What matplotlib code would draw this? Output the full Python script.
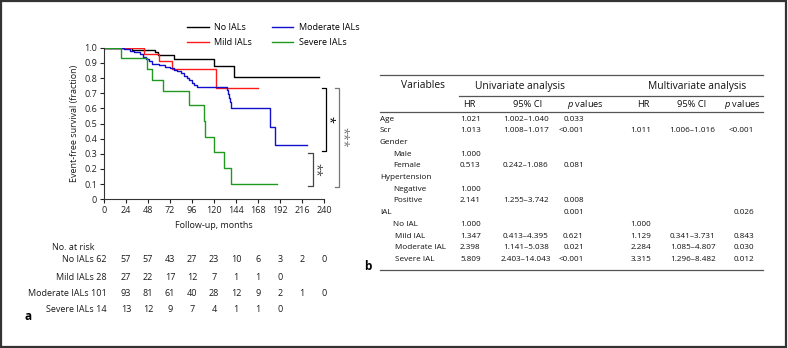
import matplotlib
matplotlib.use('Agg')
import matplotlib.pyplot as plt
import matplotlib.patches as patches
import matplotlib.transforms as mtransforms

plt.rcParams['font.family'] = ['Open Sans', 'DejaVu Sans']
plt.rcParams['mathtext.fontset'] = 'custom'
plt.rcParams['mathtext.it'] = 'Open Sans:italic'
plt.rcParams['mathtext.rm'] = 'Open Sans'

# ---- Kaplan-Meier data ----
groups = ['No IALs', 'Mild IALs', 'Moderate IALs', 'Severe IALs']
colors = ['#000000', '#ff1a1a', '#1010cc', '#1f9a1f']

no_times = [30, 56, 59, 76, 120, 142]
no_surv = [0.984, 0.97, 0.955, 0.925, 0.882, 0.81]
no_end = 235

mild_times = [43.5, 60, 74, 122]
mild_surv = [0.958, 0.91, 0.857, 0.732]
mild_end = 168

mod_times = [22, 28, 33, 39, 43, 46, 49, 52, 60, 66, 72, 76, 80, 84, 87, 90, 93,
             96, 98, 101, 134, 135, 136, 137, 138.5, 181, 186.5]
mod_surv = [0.99, 0.98, 0.97, 0.96, 0.94, 0.925, 0.91, 0.895, 0.885, 0.875, 0.865,
            0.855, 0.845, 0.83, 0.815, 0.80, 0.785, 0.77, 0.755, 0.738, 0.72, 0.695,
            0.67, 0.64, 0.60, 0.477, 0.358]
mod_end = 221

sev_times = [18, 46.5, 52, 64, 93, 109, 110, 120, 131, 139]
sev_surv = [0.93, 0.857, 0.786, 0.714, 0.62, 0.515, 0.413, 0.31, 0.206, 0.103]
sev_end = 189

risk_times = [0, 24, 48, 72, 96, 120, 144, 168, 192, 216, 240]
risk_no = [62, 57, 57, 43, 27, 23, 10, 6, 3, 2, 0]
risk_mild = [28, 27, 22, 17, 12, 7, 1, 1, 0]
risk_mod = [101, 93, 81, 61, 40, 28, 12, 9, 2, 1, 0]
risk_sev = [14, 13, 12, 9, 7, 4, 1, 1, 0]

# ---- Cox regression table ----
variables = ['Age', 'Scr', 'Gender', 'Male', 'Female', 'Hypertension', 'Negative',
             'Positive', 'IAL', 'No IAL', 'Mild IAL', 'Moderate IAL', 'Severe IAL']
indent = [0, 0, 0, 1, 1, 0, 1, 1, 0, 1, 2, 2, 2]
uni_hr = ['1.021', '1.013', '', '1.000', '0.513', '', '1.000', '2.141', '', '1.000',
          '1.347', '2.398', '5.809']
uni_ci = ['1.002–1.040', '1.008–1.017', '', '', '0.242–1.086', '', '', '1.255–3.742',
          '', '', '0.413–4.395', '1.141–5.038', '2.403–14.043']
uni_p = ['0.033', '<0.001', '', '', '0.081', '', '', '0.008', '0.001', '', '0.621',
         '0.021', '<0.001']
multi_hr = ['', '1.011', '', '', '', '', '', '', '', '1.000', '1.129', '2.284', '3.315']
multi_ci = ['', '1.006–1.016', '', '', '', '', '', '', '', '', '0.341–3.731',
            '1.085–4.807', '1.296–8.482']
multi_p = ['', '<0.001', '', '', '', '', '', '', '0.026', '', '0.843', '0.030', '0.012']

W, H = 788, 348
fig = plt.figure(figsize=(W / 100, H / 100), dpi=100)

# overlay in pixel coordinates for the text layout
ov = fig.add_axes([0, 0, 1, 1])
ov.set_xlim(0, W)
ov.set_ylim(H, 0)
ov.axis('off')

# frame around the whole figure
ov.add_patch(patches.Rectangle((0.8, 0.8), W - 2.6, H - 1.8, fill=False,
                               edgecolor='#333333', linewidth=1.6))

# ---- KM plot ----
ax = fig.add_axes([104 / W, 1 - 199.3 / H, 220 / W, 151.6 / H])
curves = [(no_times, no_surv, no_end), (mild_times, mild_surv, mild_end),
          (mod_times, mod_surv, mod_end), (sev_times, sev_surv, sev_end)]
for (t, s, end), name, c in zip(curves, groups, colors):
    xs = [0] + t + [end]
    ys = [1.0] + s + [s[-1]]
    ax.step(xs, ys, where='post', color=c, linewidth=1.0, label=name)

ax.set_xlim(0, 240)
ax.set_ylim(0, 1.0)
ax.set_xticks(risk_times)
ax.set_yticks([i / 10 for i in range(11)])
ax.set_yticklabels(['0'] + ['%.1f' % (i / 10) for i in range(1, 11)])
ax.spines['top'].set_visible(False)
ax.spines['right'].set_visible(False)
for sp in ['left', 'bottom']:
    ax.spines[sp].set_color('#333333')
    ax.spines[sp].set_linewidth(0.8)
ax.tick_params(labelsize=6.5, length=3, width=0.8, colors='#222222', pad=2)
ax.set_xlabel('Follow-up, months', fontsize=6.5, color='#1a1a1a', labelpad=4)
ax.set_ylabel('Event-free survival (fraction)', fontsize=6.5, color='#1a1a1a', labelpad=4)
ax.patch.set_alpha(0)

fig.legend(loc='center left', bbox_to_anchor=(187, 35), bbox_transform=ov.transData,
           ncol=2, frameon=False, fontsize=6.5, handlelength=2.4, handletextpad=0.6,
           columnspacing=2.2, borderpad=0, borderaxespad=0, labelspacing=0.6)

# significance brackets
def bracket(x, y0, y1, arm, color, label, lx):
    ax.plot([x - arm, x, x, x - arm], [y0, y0, y1, y1], color=color, linewidth=0.9,
            clip_on=False)
    ax.text(lx, (y0 + y1) / 2, label, rotation=270, ha='center', va='center',
            fontsize=9, color=color, clip_on=False)

bracket(242, 0.732, 0.318, 4.5, '#000000', '*', 245.5)
bracket(256.5, 0.732, 0.083, 4.5, '#777777', '***', 260)
bracket(228, 0.303, 0.09, 5, '#444444', '**', 231)

# numbers at risk
blend = mtransforms.blended_transform_factory(ax.transData, ov.transData)
ov.text(52, 248, 'No. at risk', fontsize=6.5, color='#1a1a1a', ha='left', va='center')
risk_rows = [risk_no, risk_mild, risk_mod, risk_sev]
row_y = [260, 277, 294, 310]
for name, vals, y in zip(groups, risk_rows, row_y):
    ov.text(107, y, '%s %d' % (name, vals[0]), fontsize=6.5, color='#1a1a1a',
            ha='right', va='center')
    for t, v in zip(risk_times[1:], vals[1:]):
        ax.text(t, y, str(v), transform=blend, fontsize=6.5, color='#1a1a1a',
                ha='center', va='center')

ov.text(28, 316, 'a', fontsize=8.5, fontweight='bold', ha='center', va='center')
ov.text(368, 267, 'b', fontsize=8.5, fontweight='bold', ha='center', va='center')

# ---- table ----
tl, tr = 380, 763
rule = dict(color='#555555', linewidth=0.9)
ov.plot([tl, tr], [75, 75], **rule)
ov.plot([459, tr], [96, 96], **rule)
ov.plot([tl, tr], [112.3, 112.3], **rule)
ov.plot([tl, tr], [270, 270], **rule)

hfs, bfs = 7.4, 5.9
tc = '#111111'
ov.text(423, 86, 'Variables', fontsize=hfs, color=tc, ha='center', va='center')
ov.text(520, 86, 'Univariate analysis', fontsize=hfs, color=tc, ha='center', va='center')
ov.text(697, 86, 'Multivariate analysis', fontsize=hfs, color=tc, ha='center', va='center')
sub = [(469, 'HR'), (528, '95% CI'), (585, '$p$ values'),
       (643, 'HR'), (692, '95% CI'), (742, '$p$ values')]
for x, s in sub:
    ov.text(x, 104.5, s, fontsize=6.7, color=tc, ha='center', va='center')

indent_px = [0, 13, 15.5]
for i, var in enumerate(variables):
    y = 119.3 + i * 11.67
    ov.text(tl + indent_px[indent[i]], y, var, fontsize=bfs, color=tc, ha='left', va='center')
    ov.text(460, y, uni_hr[i], fontsize=bfs, color=tc, ha='left', va='center')
    ov.text(525.7, y, uni_ci[i], fontsize=bfs, color=tc, ha='center', va='center')
    ov.text(584, y, uni_p[i], fontsize=bfs, color=tc, ha='right', va='center')
    ov.text(630.7, y, multi_hr[i], fontsize=bfs, color=tc, ha='left', va='center')
    ov.text(692.7, y, multi_ci[i], fontsize=bfs, color=tc, ha='center', va='center')
    ov.text(754, y, multi_p[i], fontsize=bfs, color=tc, ha='right', va='center')

fig.savefig('out.png', dpi=100)
